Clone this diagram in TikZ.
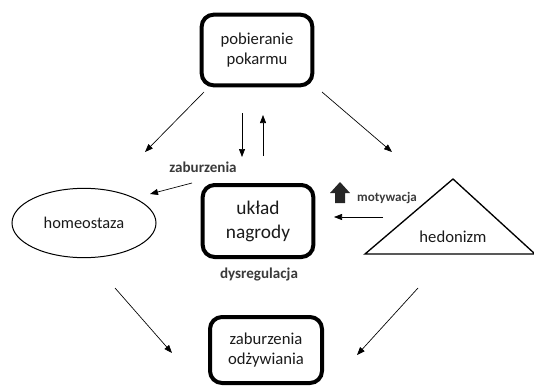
\documentclass[tikz,border=0pt]{standalone}
\usepackage{fontspec}
\setmainfont{Carlito}
\usetikzlibrary{arrows.meta,positioning,calc,shapes.geometric}
\definecolor{ink}{HTML}{000000}
\definecolor{txt}{HTML}{1A1A1A}
\definecolor{lbltxt}{HTML}{3A3A3A}
\definecolor{darkblock}{HTML}{262626}

\begin{document}
\begin{tikzpicture}[x=0.75pt,y=-0.75pt,
  box/.style={rectangle,rounded corners=9pt,draw=ink,line width=3pt,
              minimum width=83pt,minimum height=53pt,align=center,
              text=txt,font=\fontsize{12.5}{15.5}\selectfont},
  arr/.style={-{Triangle[length=6pt,width=4.5pt]},line width=0.5pt},
  lbl/.style={text=lbltxt,font=\bfseries\fontsize{11.3}{13}\selectfont}
]
  \useasboundingbox (0,0) rectangle (534,385);

  % ---- Boxes -------------------------------------------------
  \node[box] (intake) at (257,50) {pobieranie\\pokarmu};
  \node[box,minimum height=54pt,font=\fontsize{14.5}{18}\selectfont]
    (reward) at (258,221) {układ\\nagrody};
  \node[box,minimum width=84pt,minimum height=49.5pt]
    (disorder) at (266,350) {zaburzenia\\odżywiania};

  % ---- Homeostaza (ellipse) and hedonizm (triangle) ----------
  \node[ellipse,draw=ink,line width=0.75pt,minimum width=108pt,
        minimum height=52pt,text=txt,font=\fontsize{12.3}{15}\selectfont]
    (homeo) at (84,223) {homeostaza};
  \draw[line width=1pt,line join=miter] (453,179) -- (535,254) -- (365,254) -- cycle;
  \node[text=txt,font=\fontsize{12.5}{15}\selectfont] (hedon) at (453,237) {hedonizm};

  % ---- Free ends of the arrows -------------------------------
  \coordinate (a1) at (204,92);   \coordinate (b1) at (145,152);
  \coordinate (a2) at (322,92);   \coordinate (b2) at (392,152);
  \coordinate (a3) at (242,113);  \coordinate (b3) at (242,157);
  \coordinate (a4) at (263,156);  \coordinate (b4) at (263,115);
  \coordinate (a5) at (192,183);  \coordinate (b5) at (150,194);
  \coordinate (a6) at (383,217);  \coordinate (b6) at (334,217);
  \coordinate (a7) at (115,288);  \coordinate (b7) at (172,353);
  \coordinate (a8) at (418,288);  \coordinate (b8) at (357,355);

  % ---- Arrows ------------------------------------------------
  \draw[arr] (a1) -- (b1);
  \draw[arr] (a2) -- (b2);
  \draw[arr] (a3) -- (b3);
  \draw[arr] (a4) -- (b4);
  \draw[arr] (a5) -- (b5);
  \draw[arr] (a6) -- (b6);
  \draw[arr] (a7) -- (b7);
  \draw[arr] (a8) -- (b8);

  % ---- Block arrow (motywacja) -------------------------------
  \fill[darkblock] (335,203) -- (335,193) -- (330,193) -- (340,182)
    -- (350,193) -- (345,193) -- (345,203) -- cycle;

  % ---- Labels ------------------------------------------------
  \node[lbl] (lzab) at (203,167) {zaburzenia};
  \node[lbl,font=\bfseries\fontsize{9.8}{11}\selectfont] (lmot) at (387,198) {motywacja};
  \node[lbl] (ldys) at (259,274) {dysregulacja};

\end{tikzpicture}
\end{document}
